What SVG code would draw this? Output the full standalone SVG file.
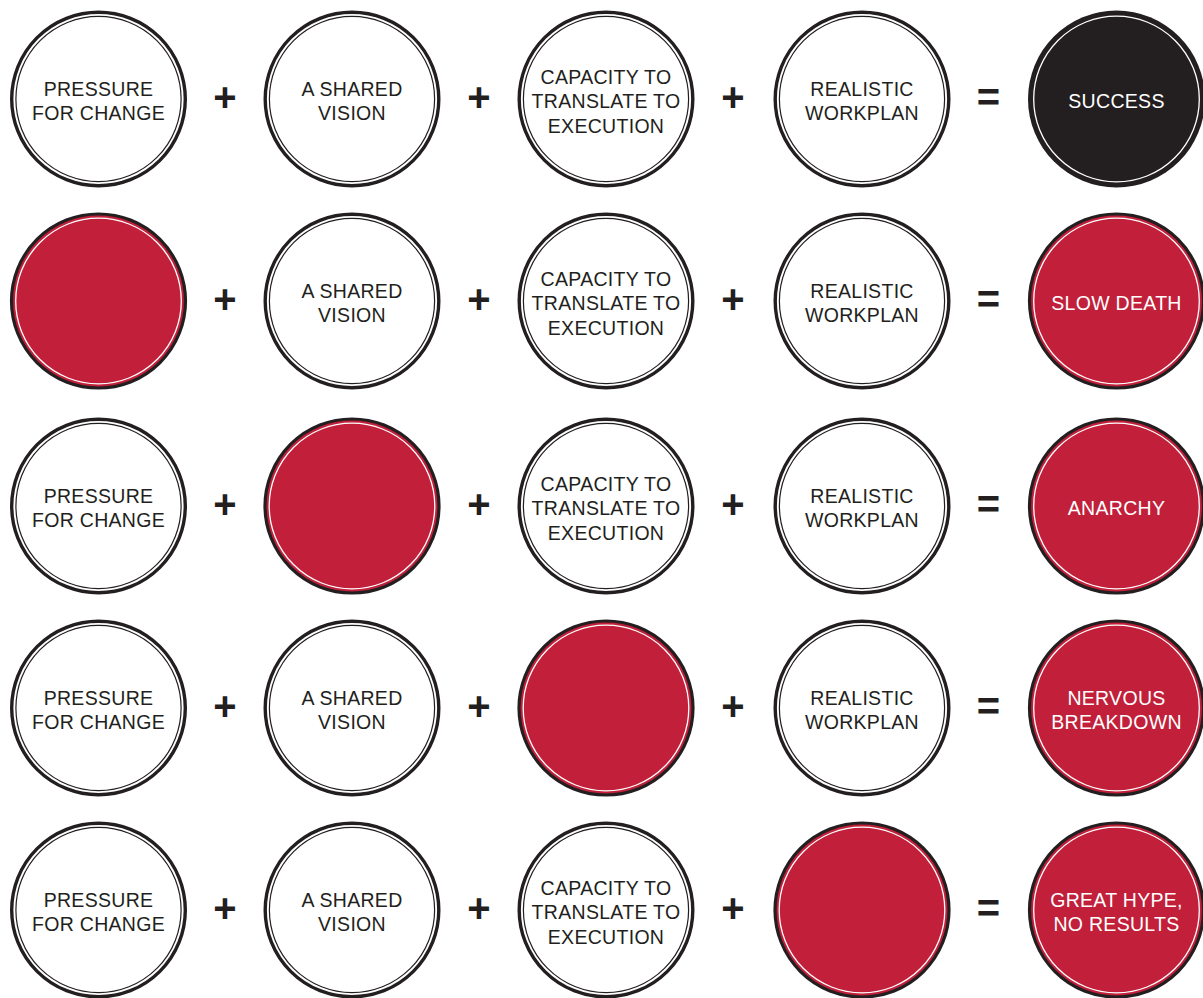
<svg xmlns="http://www.w3.org/2000/svg" xmlns:xlink="http://www.w3.org/1999/xlink" width="1203" height="998" viewBox="0 0 1203 998">
<style>
.t{font-family:"Liberation Sans",Arial,Helvetica,sans-serif;font-size:19.5px;letter-spacing:0.3px;text-anchor:middle;fill:#231F20}
.w{fill:#FFFFFF}
.op{font-family:"Liberation Sans",Arial,Helvetica,sans-serif;font-size:40px;font-weight:bold;text-anchor:middle;fill:#231F20}
</style>
<defs>
<g id="wc"><circle r="86.8" fill="#FFFFFF" stroke="#231F20" stroke-width="3.4"/><circle r="82.6" fill="none" stroke="#231F20" stroke-width="1.2"/></g>
<g id="rc"><circle r="87" fill="#C11F3A" stroke="#231F20" stroke-width="3.2"/><circle r="82.8" fill="none" stroke="#FFFFFF" stroke-width="1.3"/></g>
<g id="bc"><circle r="88.5" fill="#231F20"/><circle r="82.8" fill="none" stroke="#FFFFFF" stroke-width="1.3"/></g>
</defs>
<rect width="1203" height="998" fill="#FFFFFF"/>

<!-- Row 1 -->
<g id="r1c1" transform="translate(98.5,99)"><use xlink:href="#wc"/><text class="t"><tspan x="0" y="-3">PRESSURE</tspan><tspan x="0" y="21">FOR CHANGE</tspan></text></g>
<g id="r1c2" transform="translate(352,99)"><use xlink:href="#wc"/><text class="t"><tspan x="0" y="-3">A SHARED</tspan><tspan x="0" y="21">VISION</tspan></text></g>
<g id="r1c3" transform="translate(606,99)"><use xlink:href="#wc"/><text class="t"><tspan x="0" y="-15.5">CAPACITY TO</tspan><tspan x="0" y="9">TRANSLATE TO</tspan><tspan x="0" y="33.5">EXECUTION</tspan></text></g>
<g id="r1c4" transform="translate(862,99)"><use xlink:href="#wc"/><text class="t"><tspan x="0" y="-3">REALISTIC</tspan><tspan x="0" y="21">WORKPLAN</tspan></text></g>
<g id="r1c5" transform="translate(1116.5,99)"><use xlink:href="#bc"/><text class="t w" x="0" y="8.5">SUCCESS</text></g>

<!-- Row 2 -->
<g id="r2c1" transform="translate(98.5,301)"><use xlink:href="#rc"/></g>
<g id="r2c2" transform="translate(352,301)"><use xlink:href="#wc"/><text class="t"><tspan x="0" y="-3">A SHARED</tspan><tspan x="0" y="21">VISION</tspan></text></g>
<g id="r2c3" transform="translate(606,301)"><use xlink:href="#wc"/><text class="t"><tspan x="0" y="-15.5">CAPACITY TO</tspan><tspan x="0" y="9">TRANSLATE TO</tspan><tspan x="0" y="33.5">EXECUTION</tspan></text></g>
<g id="r2c4" transform="translate(862,301)"><use xlink:href="#wc"/><text class="t"><tspan x="0" y="-3">REALISTIC</tspan><tspan x="0" y="21">WORKPLAN</tspan></text></g>
<g id="r2c5" transform="translate(1116.5,301)"><use xlink:href="#rc"/><text class="t w" x="0" y="8.5">SLOW DEATH</text></g>

<!-- Row 3 -->
<g id="r3c1" transform="translate(98.5,506)"><use xlink:href="#wc"/><text class="t"><tspan x="0" y="-3">PRESSURE</tspan><tspan x="0" y="21">FOR CHANGE</tspan></text></g>
<g id="r3c2" transform="translate(352,506)"><use xlink:href="#rc"/></g>
<g id="r3c3" transform="translate(606,506)"><use xlink:href="#wc"/><text class="t"><tspan x="0" y="-15.5">CAPACITY TO</tspan><tspan x="0" y="9">TRANSLATE TO</tspan><tspan x="0" y="33.5">EXECUTION</tspan></text></g>
<g id="r3c4" transform="translate(862,506)"><use xlink:href="#wc"/><text class="t"><tspan x="0" y="-3">REALISTIC</tspan><tspan x="0" y="21">WORKPLAN</tspan></text></g>
<g id="r3c5" transform="translate(1116.5,506)"><use xlink:href="#rc"/><text class="t w" x="0" y="8.5">ANARCHY</text></g>

<!-- Row 4 -->
<g id="r4c1" transform="translate(98.5,708)"><use xlink:href="#wc"/><text class="t"><tspan x="0" y="-3">PRESSURE</tspan><tspan x="0" y="21">FOR CHANGE</tspan></text></g>
<g id="r4c2" transform="translate(352,708)"><use xlink:href="#wc"/><text class="t"><tspan x="0" y="-3">A SHARED</tspan><tspan x="0" y="21">VISION</tspan></text></g>
<g id="r4c3" transform="translate(606,708)"><use xlink:href="#rc"/></g>
<g id="r4c4" transform="translate(862,708)"><use xlink:href="#wc"/><text class="t"><tspan x="0" y="-3">REALISTIC</tspan><tspan x="0" y="21">WORKPLAN</tspan></text></g>
<g id="r4c5" transform="translate(1116.5,708)"><use xlink:href="#rc"/><text class="t w"><tspan x="0" y="-3">NERVOUS</tspan><tspan x="0" y="21">BREAKDOWN</tspan></text></g>

<!-- Row 5 -->
<g id="r5c1" transform="translate(98.5,910)"><use xlink:href="#wc"/><text class="t"><tspan x="0" y="-3">PRESSURE</tspan><tspan x="0" y="21">FOR CHANGE</tspan></text></g>
<g id="r5c2" transform="translate(352,910)"><use xlink:href="#wc"/><text class="t"><tspan x="0" y="-3">A SHARED</tspan><tspan x="0" y="21">VISION</tspan></text></g>
<g id="r5c3" transform="translate(606,910)"><use xlink:href="#wc"/><text class="t"><tspan x="0" y="-15.5">CAPACITY TO</tspan><tspan x="0" y="9">TRANSLATE TO</tspan><tspan x="0" y="33.5">EXECUTION</tspan></text></g>
<g id="r5c4" transform="translate(862,910)"><use xlink:href="#rc"/></g>
<g id="r5c5" transform="translate(1116.5,910)"><use xlink:href="#rc"/><text class="t w"><tspan x="0" y="-3">GREAT HYPE,</tspan><tspan x="0" y="21">NO RESULTS</tspan></text></g>

<g id="operators">
<text class="op" x="225" y="111">+</text><text class="op" x="479" y="111">+</text><text class="op" x="733" y="111">+</text><text class="op" x="988.5" y="111">=</text>
<text class="op" x="225" y="313">+</text><text class="op" x="479" y="313">+</text><text class="op" x="733" y="313">+</text><text class="op" x="988.5" y="313">=</text>
<text class="op" x="225" y="518">+</text><text class="op" x="479" y="518">+</text><text class="op" x="733" y="518">+</text><text class="op" x="988.5" y="518">=</text>
<text class="op" x="225" y="720">+</text><text class="op" x="479" y="720">+</text><text class="op" x="733" y="720">+</text><text class="op" x="988.5" y="720">=</text>
<text class="op" x="225" y="922">+</text><text class="op" x="479" y="922">+</text><text class="op" x="733" y="922">+</text><text class="op" x="988.5" y="922">=</text>
</g>
</svg>
